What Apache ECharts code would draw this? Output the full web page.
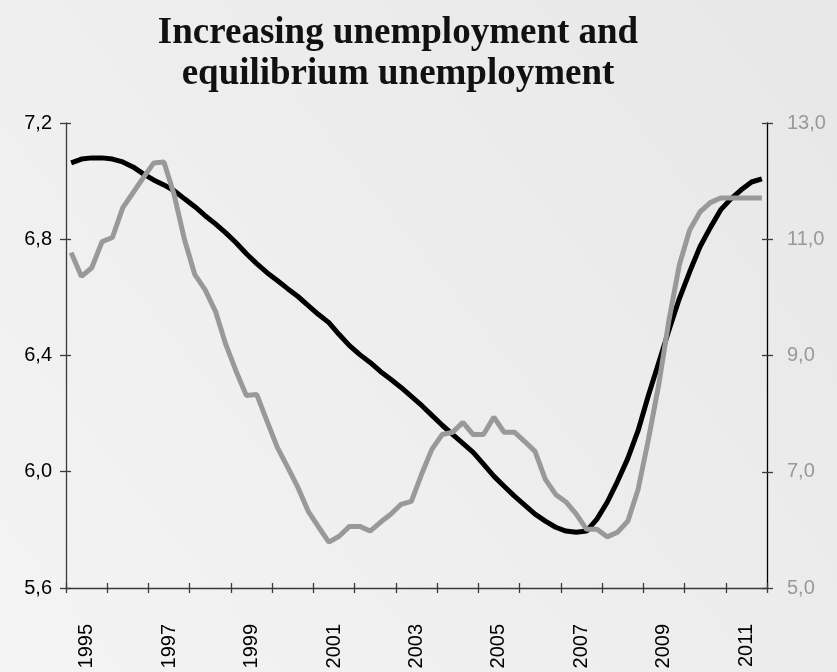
<!DOCTYPE html>
<html>
<head>
<meta charset="utf-8">
<script src="https://cdn.jsdelivr.net/npm/echarts@6/dist/echarts.min.js"></script>
<style>
  html, body { margin: 0; padding: 0; }
  #chart { width: 837px; height: 672px; }
</style>
</head>
<body>
<div id="chart"></div>
<script>
// Year labels on the time axis
const years = ['1995','1996','1997','1998','1999','2000','2001','2002','2003',
               '2004','2005','2006','2007','2008','2009','2010','2011'];

// Quarterly categories, 1995Q1 .. 2011Q4
const quarters = [];
years.forEach(y => { for (let q = 1; q <= 4; q++) quarters.push(y + 'Q' + q); });

// Equilibrium unemployment (left axis, %)
const equilibrium = [
  7.063, 7.076, 7.080, 7.080, 7.076, 7.066, 7.049, 7.025,
  7.004, 6.987, 6.967, 6.939, 6.912, 6.881, 6.853, 6.822,
  6.788, 6.750, 6.716, 6.685, 6.658, 6.630, 6.603, 6.572,
  6.541, 6.513, 6.472, 6.434, 6.403, 6.376, 6.345, 6.318,
  6.290, 6.259, 6.228, 6.194, 6.160, 6.129, 6.098, 6.067,
  6.026, 5.985, 5.950, 5.916, 5.885, 5.854, 5.830, 5.809,
  5.796, 5.792, 5.796, 5.837, 5.895, 5.967, 6.046, 6.142,
  6.263, 6.376, 6.489, 6.596, 6.688, 6.774, 6.840, 6.901,
  6.939, 6.970, 6.997, 7.008
];

// Unemployment rate (right axis, %)
const unemployment = [
  10.77, 10.36, 10.51, 10.96, 11.03, 11.54, 11.80, 12.06,
  12.31, 12.33, 11.76, 10.99, 10.39, 10.13, 9.76, 9.19,
  8.73, 8.31, 8.33, 7.87, 7.42, 7.08, 6.73, 6.32,
  6.05, 5.79, 5.89, 6.06, 6.06, 5.98, 6.13, 6.27,
  6.44, 6.49, 6.96, 7.39, 7.64, 7.68, 7.85, 7.64,
  7.64, 7.94, 7.68, 7.68, 7.52, 7.35, 6.87, 6.61,
  6.48, 6.27, 6.01, 6.01, 5.88, 5.96, 6.15, 6.70,
  7.56, 8.50, 9.62, 10.56, 11.16, 11.47, 11.63, 11.71,
  11.71, 11.71, 11.71, 11.71
];

const comma = v => v.toFixed(1).replace('.', ',');
const axisColor = '#3a3a3a';
const labelFont = 'Liberation Sans, Arial, sans-serif';

const chart = echarts.init(document.getElementById('chart'));
chart.setOption({
  backgroundColor: {
    type: 'linear', x: 1, y: 0, x2: 0, y2: 1,
    colorStops: [
      { offset: 0, color: '#e7e7e7' },
      { offset: 1, color: '#f4f4f4' }
    ]
  },
  animation: false,
  title: {
    text: 'Increasing unemployment and\nequilibrium unemployment',
    left: 393,
    top: 8,
    textAlign: 'center',
    textStyle: {
      fontFamily: 'Liberation Serif, Times New Roman, serif',
      fontWeight: 'bold',
      fontSize: 37,
      lineHeight: 41,
      color: '#111'
    }
  },
  grid: { left: 66, right: 70, top: 123, bottom: 84 },
  xAxis: [
    {
      // quarterly positions used by the series
      type: 'category', data: quarters, boundaryGap: true, show: false
    },
    {
      // year labels and outward ticks
      type: 'category', data: years, boundaryGap: true, position: 'bottom',
      axisLine: { lineStyle: { color: axisColor, width: 1.3 } },
      axisTick: { show: true, interval: 0, length: 5, lineStyle: { color: axisColor, width: 1.3 } },
      axisLabel: {
        interval: 1, rotate: 90, margin: 36,
        fontFamily: labelFont, fontSize: 20, color: '#000'
      }
    },
    {
      // inward half of the tick marks
      type: 'category', data: years, boundaryGap: true, position: 'bottom',
      axisLine: { show: false },
      axisTick: { show: true, inside: true, interval: 0, length: 5, lineStyle: { color: axisColor, width: 1.3 } },
      axisLabel: { show: false }
    }
  ],
  yAxis: [
    {
      type: 'value', position: 'left', min: 5.6, max: 7.2, interval: 0.4,
      splitLine: { show: false },
      axisLine: { show: true, lineStyle: { color: axisColor, width: 1.3 } },
      axisTick: { show: true, length: 6, lineStyle: { color: axisColor, width: 1.3 } },
      axisLabel: { formatter: comma, fontFamily: labelFont, fontSize: 20, color: '#000', margin: 14 }
    },
    {
      type: 'value', position: 'right', min: 5, max: 13, interval: 2,
      splitLine: { show: false },
      axisLine: { show: true, lineStyle: { color: '#000', width: 1.3 } },
      axisTick: { show: true, length: 6, lineStyle: { color: axisColor, width: 1.3 } },
      axisLabel: { formatter: comma, fontFamily: labelFont, fontSize: 20, color: '#999', margin: 20 }
    },
    {
      type: 'value', position: 'left', min: 5.6, max: 7.2, interval: 0.4,
      splitLine: { show: false }, axisLine: { show: false }, axisLabel: { show: false },
      axisTick: { show: true, inside: true, length: 5, lineStyle: { color: axisColor, width: 1.3 } }
    },
    {
      type: 'value', position: 'right', min: 5, max: 13, interval: 2,
      splitLine: { show: false }, axisLine: { show: false }, axisLabel: { show: false },
      axisTick: { show: true, inside: true, length: 5, lineStyle: { color: axisColor, width: 1.3 } }
    }
  ],
  series: [
    {
      name: 'Equilibrium unemployment',
      type: 'line', xAxisIndex: 0, yAxisIndex: 0,
      data: equilibrium, symbol: 'none',
      lineStyle: { color: '#000', width: 5 }
    },
    {
      name: 'Unemployment',
      type: 'line', xAxisIndex: 0, yAxisIndex: 1,
      data: unemployment, symbol: 'none',
      lineStyle: { color: '#999', width: 5 }
    }
  ]
});
</script>
</body>
</html>
